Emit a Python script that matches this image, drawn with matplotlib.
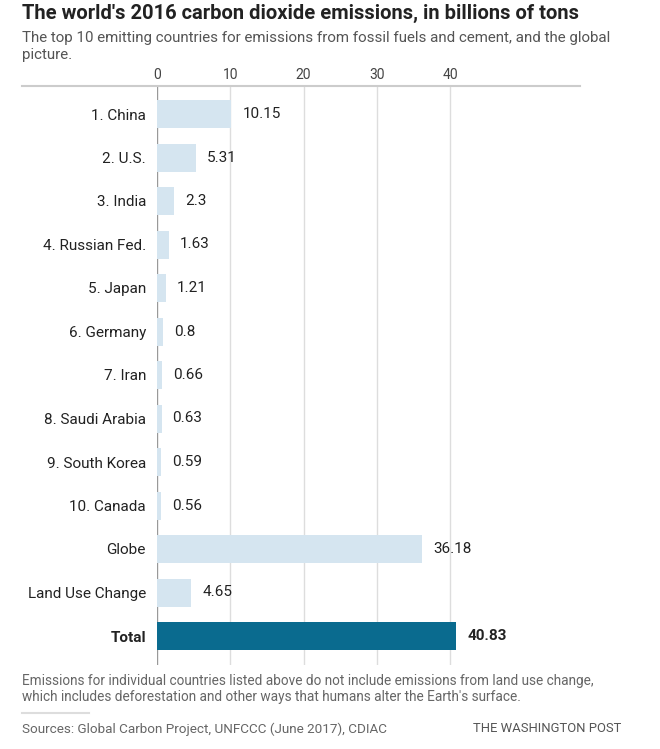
import matplotlib
matplotlib.use("Agg")
import matplotlib.pyplot as plt
from matplotlib.lines import Line2D

categories = ["1. China", "2. U.S.", "3. India", "4. Russian Fed.", "5. Japan",
              "6. Germany", "7. Iran", "8. Saudi Arabia", "9. South Korea",
              "10. Canada", "Globe", "Land Use Change", "Total"]
values = [10.15, 5.31, 2.3, 1.63, 1.21, 0.8, 0.66, 0.63, 0.59, 0.56, 36.18, 4.65, 40.83]
value_labels = ["10.15", "5.31", "2.3", "1.63", "1.21", "0.8", "0.66", "0.63", "0.59",
                "0.56", "36.18", "4.65", "40.83"]
ticks = [0, 10, 20, 30, 40]

FONT = ["Roboto", "DejaVu Sans"]
plt.rcParams['font.family'] = FONT

W, H = 660, 749
fig = plt.figure(figsize=(W / 100, H / 100), dpi=100)
fig.patch.set_facecolor("white")

def fx(px):
    return px / W

def fy(py):
    return 1 - py / H

x0_px, x_right_px = 157, 580
px_per_unit = 7.33
ax_top, ax_bot = 86, 665
row0, row_step = 114, 43.5

ax = fig.add_axes([fx(x0_px), fy(ax_bot), fx(x_right_px - x0_px), (ax_bot - ax_top) / H])
ax.set_xlim(0, (x_right_px - x0_px) / px_per_unit)
ax.set_ylim(12 + (ax_bot - (row0 + 12 * row_step)) / row_step, -(row0 - ax_top) / row_step)

light = "#d5e5f0"
dark = "#0a6b8f"
colors = [light] * 12 + [dark]
ys = list(range(len(categories)))
ax.barh(ys, values, height=28 / row_step, color=colors, zorder=2)

for i, (v, lab) in enumerate(zip(values, value_labels)):
    ax.text(v + 1.5, i, lab, va="center", ha="left", fontsize=11,
            color="#222222", fontweight="bold" if i == 12 else "normal")

ax.set_yticks(ys)
ax.set_yticklabels(categories)
for i, t in enumerate(ax.get_yticklabels()):
    t.set_fontsize(11)
    t.set_color("#222222")
    if i == 12:
        t.set_fontweight("bold")
ax.tick_params(axis="y", length=0, pad=8)

ax.xaxis.tick_top()
ax.set_xticks(ticks)
ax.set_xticklabels([str(t) for t in ticks])
ax.tick_params(axis="x", length=0, pad=3, labelsize=10, labelcolor="#444444")

for t in ticks:
    ax.axvline(t, color="#999999" if t == 0 else "#dddddd", lw=1, zorder=1)

for s in ax.spines.values():
    s.set_visible(False)

# top rule
fig.add_artist(Line2D([fx(22), fx(580)], [fy(86), fy(86)], color="#cccccc", lw=1.5))

fig.text(fx(22), fy(13), "The world's 2016 carbon dioxide emissions, in billions of tons",
         fontsize=14.5, fontweight="bold", color="#222222", va="center", ha="left")
fig.text(fx(22), fy(38), "The top 10 emitting countries for emissions from fossil fuels and cement, and the global",
         fontsize=10.9, color="#555555", va="center", ha="left")
fig.text(fx(22), fy(55), "picture.",
         fontsize=10.9, color="#555555", va="center", ha="left")

fig.text(fx(22), fy(681), "Emissions for individual countries listed above do not include emissions from land use change,",
         fontsize=9.85, color="#666666", va="center", ha="left")
fig.text(fx(22), fy(697), "which includes deforestation and other ways that humans alter the Earth's surface.",
         fontsize=9.85, color="#666666", va="center", ha="left")

fig.add_artist(Line2D([fx(22), fx(89)], [fy(713), fy(713)], color="#dddddd", lw=1.5))

fig.text(fx(22), fy(729), "Sources: Global Carbon Project, UNFCCC (June 2017), CDIAC",
         fontsize=9.7, color="#666666", va="center", ha="left")
fig.text(fx(621), fy(729), "THE WASHINGTON POST",
         fontsize=9.4, color="#555555", va="center", ha="right")

fig.savefig("out.png", dpi=100, facecolor="white")
